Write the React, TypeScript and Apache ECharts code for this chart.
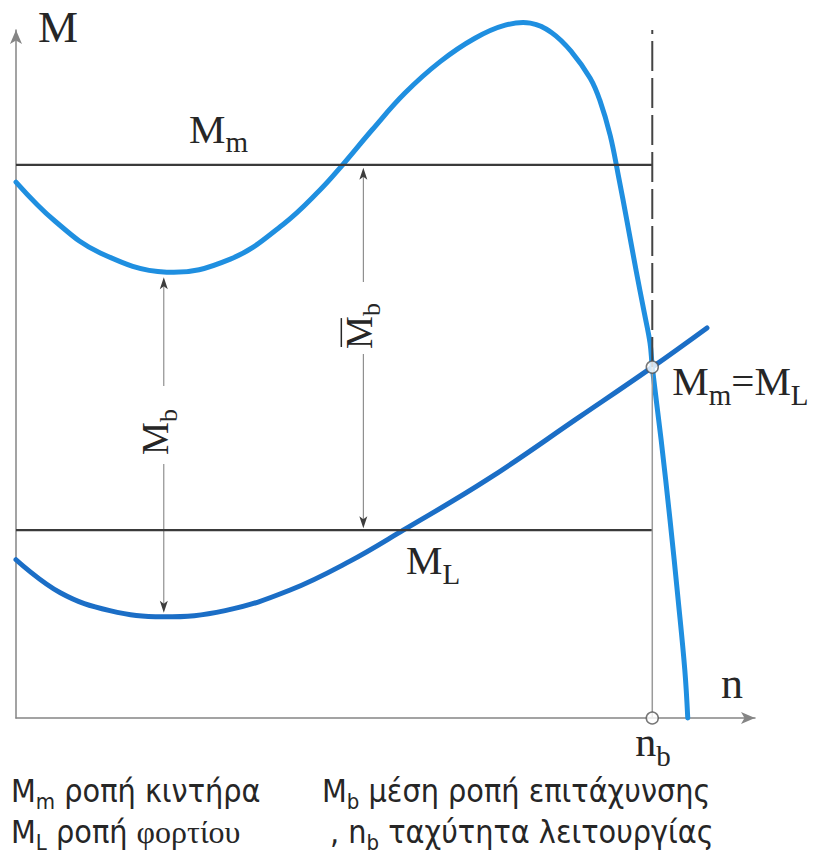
import React, { useEffect, useRef } from "react";
import * as echarts from "echarts";

// Speed n and torque M are both given in percent of the axis range.
const motorSpeed = [0, 5.3, 11.4, 20.4, 29.0, 36.1, 41.1, 44.2, 48.2, 52.6, 57.4, 62.1, 66.2, 69.6, 72.5, 75.2, 77.7, 79.0, 80.4, 81.5, 82.7, 83.9, 85.0, 85.8, 86.1, 87.3, 88.5, 89.6, 90.5, 90.9];
const motorTorque = [77.9, 72.2, 67.6, 64.8, 66.7, 71.7, 76.7, 80.4, 85.5, 90.8, 95.4, 98.8, 100.7, 101.0, 99.6, 96.8, 93.0, 89.8, 84.7, 78.9, 72.1, 65.1, 59.0, 54.5, 51.0, 40.4, 28.8, 17.2, 7.0, 0];

const loadSpeed = [0, 6.0, 12.7, 19.9, 28.3, 37.1, 45.2, 52.4, 63.7, 76.3, 86.1, 93.5];
const loadTorque = [23.0, 18.2, 15.6, 14.7, 15.6, 18.6, 22.8, 27.3, 34.6, 43.8, 51.0, 56.7];

const meanMotorTorque = 80.4; // M_m
const meanLoadTorque = 27.3; // M_L
const operatingSpeed = 86.1; // n_b
const operatingTorque = 51; // M_m = M_L
const motorMinTorque = 64.8;
const loadMinTorque = 14.7;
const accelArrowSpeeds = [20, 47]; // where the M_b arrows stand

const SERIF = "Liberation Serif, Times New Roman, serif";
const SANS = "Liberation Sans Narrow, DejaVu Sans Condensed, sans-serif";
const INK = "#262626";

const measureCtx = document.createElement("canvas").getContext("2d")!;
function textWidth(t: string, size: number, family: string) {
  measureCtx.font = `${size}px ${family}`;
  return measureCtx.measureText(t).width;
}

type Seg = { t: string; sub?: boolean; family?: string };

// A run of text pieces on one baseline, with optional subscripts.
function label(
  parts: Seg[],
  x: number,
  y: number,
  size: number,
  family: string,
  rotation = 0,
  extra: any[] = []
) {
  let cx = 0;
  const children: any[] = parts.map((p) => {
    const fs = p.sub ? Math.round(size * 0.7) : size;
    const fam = p.family || family;
    const el = {
      type: "text",
      style: {
        text: p.t,
        x: cx,
        y: p.sub ? size * 0.33 : 0,
        fontSize: fs,
        fontFamily: fam,
        fill: INK,
        align: "left",
        verticalAlign: "middle",
      },
    };
    cx += textWidth(p.t, fs, fam);
    return el;
  });
  return { type: "group", x, y, rotation, silent: true, children: children.concat(extra) };
}

function arrowHead(tip: number[], dir: number) {
  // dir = -1 points up, +1 points down
  const [x, y] = tip;
  return {
    type: "polygon",
    silent: true,
    shape: {
      points: [
        [x, y],
        [x - 4, y - dir * 12],
        [x, y - dir * 9],
        [x + 4, y - dir * 12],
      ],
    },
    style: { fill: "#3d3d3d" },
  };
}

function vLine(x: number, y1: number, y2: number) {
  return {
    type: "line",
    silent: true,
    shape: { x1: x, y1, x2: x, y2 },
    style: { stroke: "#7a7a7a", lineWidth: 1 },
  };
}

function buildGraphic(toPx: (p: number[]) => number[]) {
  const els: any[] = [];

  // axis titles
  els.push(label([{ t: "M" }], 38, 27, 45, SERIF));
  els.push(label([{ t: "n" }], 721, 683, 44, SERIF));

  // curve / level captions
  const mm = toPx([0, meanMotorTorque]);
  els.push(label([{ t: "M" }, { t: "m", sub: true }], 189, mm[1] - 36, 41, SERIF));
  const ml = toPx([0, meanLoadTorque]);
  els.push(label([{ t: "M" }, { t: "L", sub: true }], 406, ml[1] + 30, 41, SERIF));
  const op = toPx([operatingSpeed, operatingTorque]);
  els.push(
    label(
      [{ t: "M" }, { t: "m", sub: true }, { t: "=" }, { t: "M" }, { t: "L", sub: true }],
      op[0] + 20,
      op[1] + 14,
      41,
      SERIF
    )
  );
  const nb = toPx([operatingSpeed, 0]);
  els.push(label([{ t: "n" }, { t: "b", sub: true }], nb[0] - 17, nb[1] + 24, 42, SERIF));

  // M_b arrow between the two minima
  const aTop = toPx([accelArrowSpeeds[0], motorMinTorque]);
  const aBot = toPx([accelArrowSpeeds[0], loadMinTorque]);
  const ax = aTop[0];
  const t1 = aTop[1] + 5;
  const b1 = aBot[1] - 4;
  els.push(vLine(ax, t1 + 8, 386));
  els.push(vLine(ax, 464, b1 - 8));
  els.push(arrowHead([ax, t1], -1));
  els.push(arrowHead([ax, b1], 1));
  els.push(label([{ t: "M" }, { t: "b", sub: true }], ax - 8, 455, 37, SERIF, Math.PI / 2));

  // mean M_b arrow between the two level lines
  const cTop = toPx([accelArrowSpeeds[1], meanMotorTorque]);
  const cBot = toPx([accelArrowSpeeds[1], meanLoadTorque]);
  const cx = cTop[0];
  const t2 = cTop[1] + 3;
  const b2 = cBot[1] - 2;
  els.push(vLine(cx, t2 + 8, 282));
  els.push(vLine(cx, 354, b2 - 8));
  els.push(arrowHead([cx, t2], -1));
  els.push(arrowHead([cx, b2], 1));
  const barLen = textWidth("M", 37, SERIF);
  els.push(
    label([{ t: "M" }, { t: "b", sub: true }], cx - 4, 349, 37, SERIF, Math.PI / 2, [
      {
        type: "line",
        shape: { x1: 2, y1: -18, x2: barLen - 2, y2: -18 },
        style: { stroke: INK, lineWidth: 1.5 },
      },
    ])
  );

  // key below the diagram
  els.push(label([{ t: "M" }, { t: "m", sub: true }, { t: " ροπή κιντήρα" }], 11, 791, 32, SANS));
  els.push(label([{ t: "M" }, { t: "b", sub: true }, { t: " μέση ροπή επιτάχυνσης" }], 322, 791, 32, SANS));
  els.push(
    label(
      [{ t: "M" }, { t: "L", sub: true }, { t: " ροπή " }, { t: "φορτίου", family: SERIF }],
      11,
      832,
      32,
      SANS
    )
  );
  els.push(
    label([{ t: ", " }, { t: "n" }, { t: "b", sub: true }, { t: " ταχύτητα λειτουργίας" }], 330, 832, 32, SANS)
  );
  return els;
}

const zip = (a: number[], b: number[]) => a.map((v, i) => [v, b[i]]);

// A torque characteristic drawn as one smooth polyline through its points.
function curveSeries(name: string, xs: number[], ys: number[], color: string, z: number) {
  return {
    type: "custom",
    name,
    data: zip(xs, ys),
    encode: { x: 0, y: 1 },
    clip: false,
    silent: true,
    z,
    renderItem: (params: any, api: any) => {
      if (params.dataIndex !== 0) return null;
      const points = xs.map((n, i) => api.coord([n, ys[i]]));
      return {
        type: "polyline",
        shape: { points, smooth: 0.4 },
        style: { stroke: color, lineWidth: 5, fill: null, lineCap: "round", lineJoin: "round" },
      };
    },
  };
}

const axisCommon = {
  type: "value" as const,
  min: 0,
  max: 100,
  axisLine: {
    show: true,
    symbol: ["none", "arrow"],
    symbolSize: [9, 14],
    lineStyle: { color: "#858585", width: 1.5 },
  },
  axisTick: { show: false },
  axisLabel: { show: false },
  splitLine: { show: false },
};

export default function App() {
  const ref = useRef<HTMLDivElement>(null);

  useEffect(() => {
    const chart = echarts.init(ref.current!, null, { renderer: "svg" });
    chart.setOption({
      animation: false,
      backgroundColor: "#ffffff",
      grid: { left: 16, top: 30, right: 63, bottom: 141 },
      xAxis: { ...axisCommon },
      yAxis: { ...axisCommon },
      series: [
        curveSeries("ML(n)", loadSpeed, loadTorque, "#1b6ec6", 2),
        curveSeries("Mm(n)", motorSpeed, motorTorque, "#1f8fe0", 3),
        {
          type: "line",
          data: [
            [0, meanMotorTorque],
            [operatingSpeed, meanMotorTorque],
          ],
          symbol: "none",
          lineStyle: { color: "#3a3a3a", width: 2.2 },
          z: 4,
        },
        {
          type: "line",
          data: [
            [0, meanLoadTorque],
            [operatingSpeed, meanLoadTorque],
          ],
          symbol: "none",
          lineStyle: { color: "#3a3a3a", width: 2.2 },
          z: 4,
        },
        {
          type: "line",
          data: [
            [operatingSpeed, 0],
            [operatingSpeed, operatingTorque],
          ],
          symbol: "none",
          lineStyle: { color: "#9a9a9a", width: 1.5 },
          z: 4,
        },
        {
          type: "line",
          data: [
            [operatingSpeed, operatingTorque],
            [operatingSpeed, 100],
          ],
          symbol: "none",
          clip: false,
          lineStyle: { color: "#444444", width: 2, type: [30, 7] },
          z: 4,
        },
        {
          type: "scatter",
          data: [
            [operatingSpeed, operatingTorque],
            [operatingSpeed, 0],
          ],
          symbol: "circle",
          symbolSize: 12,
          clip: false,
          itemStyle: { color: "#ffffff", borderColor: "#555555", borderWidth: 1.5 },
          z: 6,
        },
      ],
    });
    const toPx = (p: number[]) => chart.convertToPixel({ gridIndex: 0 }, p) as number[];
    chart.setOption({ graphic: buildGraphic(toPx) });
    return () => chart.dispose();
  }, []);

  return (
    <div
      ref={ref}
      style={{ position: "absolute", left: 0, top: 0, width: 818, height: 859, background: "#fff" }}
    />
  );
}
